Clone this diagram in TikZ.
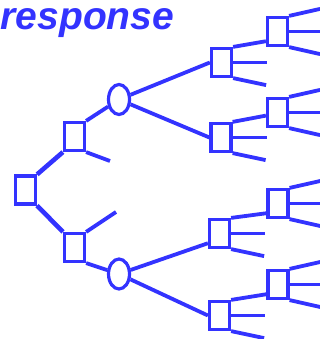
\documentclass[tikz,border=0pt]{standalone}
\usepackage{fontspec}
\setmainfont{Liberation Sans}
\usetikzlibrary{shapes.geometric,calc}
\definecolor{treeblue}{HTML}{3333FF}

\begin{document}
\begin{tikzpicture}[x=1pt,y=-1pt,
    box/.style={rectangle, draw=treeblue, line width=3.2pt, minimum width=20pt, minimum height=28pt, inner sep=0pt},
    chance/.style={ellipse, draw=treeblue, line width=3.2pt, minimum width=21pt, minimum height=30pt, inner sep=0pt},
    link/.style={treeblue, line width=3.8pt},
    trunk/.style={treeblue, line width=4.6pt}
]
\useasboundingbox (0,0) rectangle (320,339);

\node[anchor=base west, inner sep=0pt, text=treeblue, font=\fontsize{39}{47}\selectfont\bfseries\itshape] (title) at (0.5,30) {response};

% decision and chance nodes
\node[box] (root) at (25.5,190) {};
\node[box] (b1) at (74.5,136.5) {};
\node[box] (b2) at (74.5,247.5) {};
\node[chance] (ch1) at (119,99.5) {};
\node[chance] (ch2) at (119,274) {};
\node[box] (c1) at (221.5,62.5) {};
\node[box] (c2) at (221,137.5) {};
\node[box] (c3) at (219.5,233.5) {};
\node[box] (c4) at (219.5,315.5) {};
\node[box] (d1) at (277.5,31.5) {};
\node[box] (d2) at (277.5,112.5) {};
\node[box] (d3) at (278,203.5) {};
\node[box] (d4) at (278,284.5) {};

% loose branch ends
\coordinate (b1-end) at (110,161);
\coordinate (b2-end) at (116,212);
\foreach \n in {c1,c2,c3,c4} {
  \coordinate (\n-mid) at ($(\n.east)+(34,0)$);
  \coordinate (\n-low) at ($(\n.south east)+(33,7)$);
}
\foreach \n in {d1,d2,d3,d4} {
  \coordinate (\n-up) at ($(\n.north east)+(31,-7)$);
  \coordinate (\n-mid) at ($(\n.east)+(31,0)$);
  \coordinate (\n-low) at ($(\n.south east)+(31,7)$);
}

\draw[trunk] (root.north east) -- (b1.south west);
\draw[trunk] (root.south east) -- (b2.north west);
\draw[link] (b1.north east) -- (ch1);
\draw[link] (b1.south east) -- (b1-end);
\draw[link] (b2.north east) -- (b2-end);
\draw[link] (b2.south east) -- (ch2);
\draw[link] (ch1) -- (c1.west);
\draw[link] (ch1) -- (c2.west);
\draw[link] (ch2) -- (c3.220);
\draw[link] (ch2) -- (c4.west);
\draw[link] (c1.north east) -- (d1.220);
\draw[link] (c2.north east) -- (d2.195);
\draw[link] (c3.north east) -- (d3.220);
\draw[link] (c4.north east) -- (d4.220);
\foreach \n in {c1,c2,c3,c4} {
  \draw[link] (\n.east) -- (\n-mid);
  \draw[link] (\n.south east) -- (\n-low);
}
\foreach \n in {d1,d2,d3,d4} {
  \draw[link] (\n.north east) -- (\n-up);
  \draw[link] (\n.east) -- (\n-mid);
  \draw[link] (\n.south east) -- (\n-low);
}
\end{tikzpicture}
\end{document}
